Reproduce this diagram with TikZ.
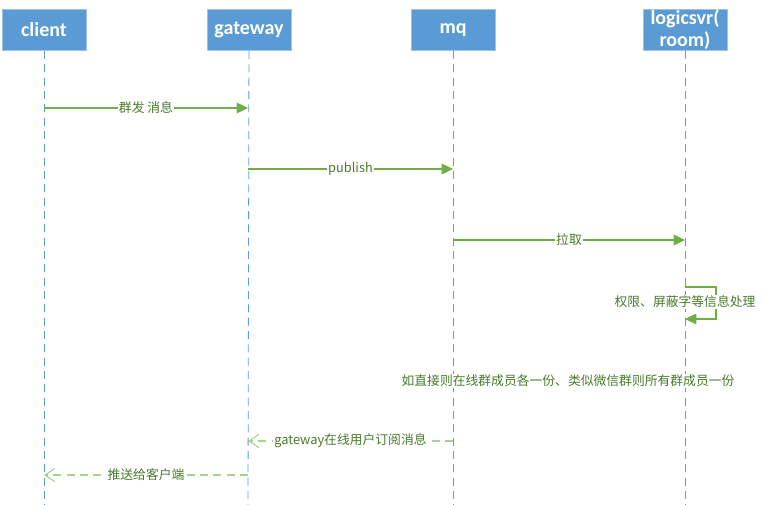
\documentclass[tikz,border=0pt]{standalone}
\usepackage{fontspec}
\usepackage{xcolor}
\usepackage{tikz}
\usetikzlibrary{arrows.meta}
\setmainfont{Carlito}
\newfontfamily\cjk{Noto Sans CJK SC}
\definecolor{boxblue}{HTML}{5B9BD5}
\definecolor{boxedge}{HTML}{9DC3E6}
\definecolor{msggreen}{HTML}{70AD47}
\definecolor{replygreen}{HTML}{A9D18E}
\definecolor{txtgreen}{HTML}{4A7A2C}
\begin{document}
\begin{tikzpicture}
  [x=0.75pt,y=-0.75pt,
   actor/.style={rectangle,fill=boxblue,draw=boxedge,line width=0.6pt,minimum width=63pt,minimum height=31pt,text=white,font=\fontsize{15}{16.5}\selectfont\bfseries,align=center,inner sep=0pt},
   lifeline/.style={draw=boxblue,line width=0.6pt,dash pattern=on 6pt off 4pt},
   msg/.style={draw=msggreen,line width=0.8pt,-{Triangle[length=8.5pt,width=8pt]}},
   reply/.style={draw=replygreen,line width=0.9pt,dash pattern=on 6pt off 4pt,-{Straight Barb[length=7.5pt,width=10pt,line width=0.8pt]}},
   lbl/.style={fill=white,text=txtgreen,inner sep=1pt,font=\cjk\fontsize{9.6}{11}\selectfont}] % blue boxes on top, green messages below
    \useasboundingbox (0,0) rectangle (766,505);

    \node[actor] (client)  at (44,30)  {client};
    \node[actor] (gateway) at (249,30) {gateway};
    \node[actor] (mq)      at (453,30) {mq};
    \node[actor] (logic)   at (685,30) {logicsvr(\\room)};

    \coordinate (client-end)  at (44,505);
    \coordinate (gateway-end) at (248,505);
    \coordinate (mq-end)      at (453,505);
    \coordinate (logic-end)   at (685,505);

    \draw[lifeline] (client) -- (client-end);
    \draw[lifeline] (gateway) -- (gateway-end);
    \draw[lifeline] (mq) -- (mq-end);
    \draw[lifeline] (logic) -- (logic-end);

    \coordinate (c1) at (44,108);   \coordinate (g1) at (248,108);
    \coordinate (g2) at (248,169);  \coordinate (m2) at (453,169);
    \coordinate (m3) at (453,240);  \coordinate (l3) at (685,240);
    \coordinate (l4) at (685,287);  \coordinate (l5) at (685,319);
    \coordinate (m6) at (453,441);  \coordinate (g6) at (248,441);
    \coordinate (g7) at (248,475);  \coordinate (c7) at (44,475);

    \draw[msg] (c1) -- node[lbl] {群发 消息} (g1);
    \draw[msg] (g2) -- node[lbl] {publish} (m2);
    \draw[msg] (m3) -- node[lbl] {拉取} (l3);
    \draw[msg] (l4) -- ++(31,0) -- ++(0,32) -- (l5);
    \node[lbl] (note1) at (685,302) {权限、屏蔽字等信息处理};

    \node[lbl] (note2) at (568,381) {如直接则在线群成员各一份、类似微信群则所有群成员一份};

    \draw[reply] (m6) -- node[lbl] {gateway在线用户订阅消息} (g6);
    \draw[reply] (g7) -- node[lbl] {推送给客户端} (c7);

\end{tikzpicture}
\end{document}
